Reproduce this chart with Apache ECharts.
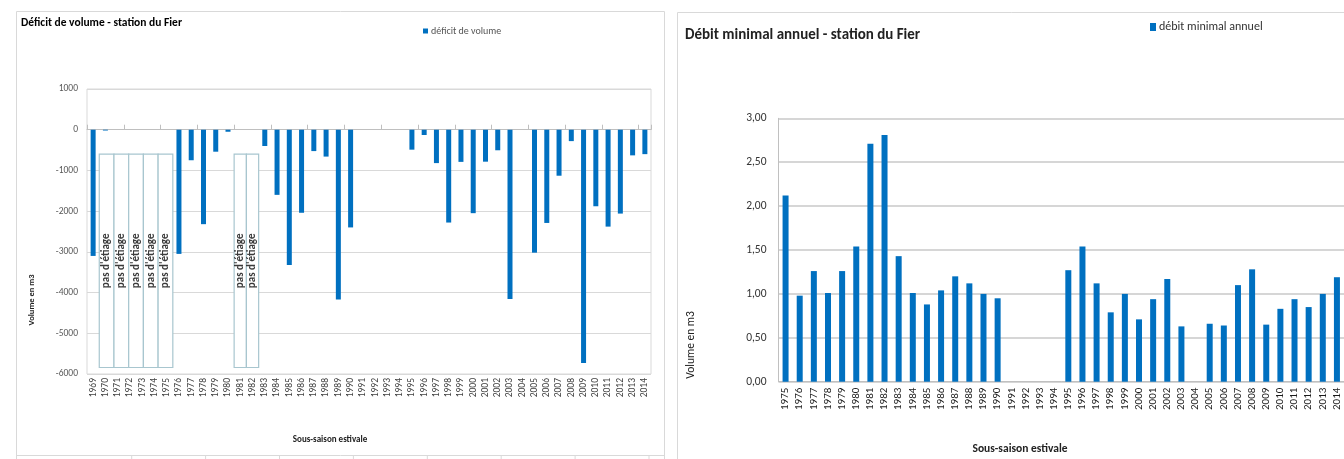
<!DOCTYPE html>
<html>
<head>
<meta charset="utf-8">
<script src="https://cdn.jsdelivr.net/npm/echarts@6/dist/echarts.min.js"></script>
<style>
  html, body { margin: 0; padding: 0; background: #fff; overflow: hidden; }
  #chart { width: 1344px; height: 459px; }
</style>
</head>
<body>
<div id="chart"></div>
<script>
// Summer sub-season years for the volume deficit chart
const deficitYears = ['1969','1970','1971','1972','1973','1974','1975','1976','1977','1978',
  '1979','1980','1981','1982','1983','1984','1985','1986','1987','1988','1989','1990',
  '1991','1992','1993','1994','1995','1996','1997','1998','1999','2000','2001','2002',
  '2003','2004','2005','2006','2007','2008','2009','2010','2011','2012','2013','2014'];

// Volume deficit (m3); null = no value
const deficitValues = [-3100, -20, null, null, null, null, null, -3050, -750, -2320,
  -540, -50, null, null, -400, -1600, -3320, -2040, -525, -660, -4170, -2400,
  null, null, null, null, -490, -130, -820, -2280, -790, -2050, -785, -505,
  -4160, null, -3020, -2290, -1130, -280, -5730, -1880, -2380, -2060, -630, -600];

// Year spans flagged "pas d'étiage" and the number of boxes drawn over each span
const noLowFlowSpans = [['1970', '1975', 5], ['1981', '1982', 2]];

// Years for the annual minimum flow chart
const minFlowYears = ['1975','1976','1977','1978','1979','1980','1981','1982','1983','1984',
  '1985','1986','1987','1988','1989','1990','1991','1992','1993','1994','1995','1996',
  '1997','1998','1999','2000','2001','2002','2003','2004','2005','2006','2007','2008',
  '2009','2010','2011','2012','2013','2014'];

// Annual minimum flow
const minFlowValues = [2.12, 0.98, 1.26, 1.01, 1.26, 1.54, 2.71, 2.81, 1.43, 1.01,
  0.88, 1.04, 1.20, 1.12, 1.00, 0.95, null, null, null, null, 1.27, 1.54,
  1.12, 0.79, 1.00, 0.71, 0.94, 1.17, 0.63, null, 0.66, 0.64, 1.10, 1.28,
  0.65, 0.83, 0.94, 0.85, 1.00, 1.19];

const deficitTicks = [-6000, -5000, -4000, -3000, -2000, -1000, 0, 1000];
const flowTicks = [0, 0.5, 1, 1.5, 2, 2.5, 3];

const FONT = "'Carlito', 'Liberation Sans Narrow', 'Noto Sans', sans-serif";
const BLUE = '#0070C0';

const chart = echarts.init(document.getElementById('chart'), null, { renderer: 'canvas' });

// Small tick marks along the lower frame line of the left panel
const frameTicks = [];
for (let k = 0; k < 8; k++) {
  const x = 131.7 + 73.9 * k;
  frameTicks.push({ type: 'line', shape: { x1: x, y1: 455, x2: x, y2: 459 },
    style: { stroke: '#d9d9d9', lineWidth: 1 }, silent: true });
}

const option = {
  animation: false,
  textStyle: { fontFamily: FONT },
  title: [
    { text: 'Déficit de volume - station du Fier', left: 16, top: 12,
      textStyle: { fontFamily: FONT, fontSize: 11.5, fontWeight: 'bold', color: '#000' } },
    { text: 'Débit minimal annuel - station du Fier', left: 680, top: 23,
      textStyle: { fontFamily: FONT, fontSize: 15, fontWeight: 600, color: '#222' } }
  ],
  legend: [
    { data: ['déficit de volume'], left: 418, top: 21, itemWidth: 5, itemHeight: 5, itemGap: 4,
      icon: 'rect', textStyle: { fontFamily: FONT, fontSize: 10, color: '#555', padding: [0, 0, 0, -2] } },
    { data: ['débit minimal annuel'], left: 1145, top: 16, itemWidth: 6, itemHeight: 8,
      icon: 'rect', textStyle: { fontFamily: FONT, fontSize: 12, color: '#333', padding: [0, 0, 0, -2] } }
  ],
  grid: [
    { left: 87, top: 89, width: 564, height: 285, show: true, borderColor: '#d9d9d9', borderWidth: 1,
      backgroundColor: 'transparent' },
    { left: 778.5, top: 118.3, width: 569.6, height: 263.4 }
  ],
  xAxis: [
    { // category axis crossing at zero: line and ticks only
      type: 'category', gridIndex: 0, data: deficitYears, position: 'bottom',
      axisLine: { onZero: true, lineStyle: { color: '#bfbfbf' } },
      axisTick: { show: true, inside: true, length: 5, lineStyle: { color: '#bfbfbf' } },
      axisLabel: { show: false }, splitLine: { show: false }
    },
    { // year labels at the bottom of the plot
      type: 'category', gridIndex: 0, data: deficitYears, position: 'bottom',
      axisLine: { show: false, onZero: false }, axisTick: { show: false },
      axisLabel: { interval: 0, rotate: 90, fontSize: 9.5, color: '#404040', margin: 4, fontFamily: FONT },
      splitLine: { show: false }
    },
    {
      type: 'category', gridIndex: 1, data: minFlowYears, position: 'bottom',
      axisLine: { lineStyle: { color: '#c0c0c0', width: 1 } }, axisTick: { show: false },
      axisLabel: { interval: 0, rotate: 90, fontSize: 11, color: '#1a1a1a', margin: 6, fontFamily: FONT },
      splitLine: { show: false }
    }
  ],
  yAxis: [
    {
      type: 'value', gridIndex: 0, min: deficitTicks[0], max: deficitTicks[deficitTicks.length - 1],
      interval: 1000,
      axisLine: { show: false }, axisTick: { show: false },
      axisLabel: { fontSize: 9.5, color: '#595959', margin: 9, fontFamily: FONT,
        formatter: v => String(v) },
      splitLine: { lineStyle: { color: '#d9d9d9', width: 1 } }
    },
    {
      type: 'value', gridIndex: 1, min: flowTicks[0], max: flowTicks[flowTicks.length - 1],
      interval: 0.5,
      axisLine: { show: true, lineStyle: { color: '#c0c0c0' } }, axisTick: { show: false },
      axisLabel: { fontSize: 11.5, color: '#333', margin: 12, fontFamily: FONT,
        formatter: v => v.toFixed(2).replace('.', ',') },
      splitLine: { lineStyle: { color: '#c8c8c8', width: 1.5 } }
    }
  ],
  series: [
    {
      name: 'déficit de volume', type: 'bar', xAxisIndex: 0, yAxisIndex: 0,
      data: deficitValues, barWidth: 5, itemStyle: { color: BLUE }
    },
    {
      name: 'pas d\'étiage', type: 'custom', xAxisIndex: 0, yAxisIndex: 0,
      data: noLowFlowSpans.map(s => [s[0], -600]),
      z: 3,
      renderItem: function (params, api) {
        const span = noLowFlowSpans[params.dataIndex];
        const i0 = deficitYears.indexOf(span[0]);
        const i1 = deficitYears.indexOf(span[1]);
        const band = api.size([1, 0])[0];
        const x0 = api.coord([i0, 0])[0] - band / 2;
        const x1 = api.coord([i1, 0])[0] + band / 2;
        const yTop = api.coord([i0, -600])[1];
        const yBot = api.coord([i0, -5840])[1];
        const w = (x1 - x0) / span[2];
        const children = [];
        for (let k = 0; k < span[2]; k++) {
          children.push({
            type: 'rect',
            shape: { x: x0 + k * w, y: yTop, width: w, height: yBot - yTop },
            style: { fill: '#fff', stroke: '#a8c6cf', lineWidth: 1.2 }
          });
          children.push({
            type: 'text',
            x: x0 + k * w + w / 2, y: (yTop + yBot) / 2,
            rotation: Math.PI / 2,
            style: { text: 'pas d\'étiage', align: 'center', verticalAlign: 'middle',
              font: 'bold 11px ' + FONT, fill: '#3a3a3a' }
          });
        }
        return { type: 'group', children: children };
      }
    },
    {
      name: 'débit minimal annuel', type: 'bar', xAxisIndex: 2, yAxisIndex: 1,
      data: minFlowValues, barWidth: 6, itemStyle: { color: BLUE }
    }
  ],
  graphic: [
    // panel frames
    { type: 'rect', shape: { x: 16.5, y: 11.5, width: 648, height: 460 },
      style: { fill: 'none', stroke: '#d9d9d9', lineWidth: 1 }, silent: true, z: -10 },
    { type: 'rect', shape: { x: 677.5, y: 12.5, width: 700, height: 460 },
      style: { fill: 'none', stroke: '#d9d9d9', lineWidth: 1 }, silent: true, z: -10 },
    { type: 'line', shape: { x1: 16, y1: 455.5, x2: 665, y2: 455.5 },
      style: { stroke: '#d9d9d9', lineWidth: 1 }, silent: true },
    ...frameTicks,
    // axis titles
    { type: 'text', x: 32, y: 300, rotation: Math.PI / 2,
      style: { text: 'Volume en m3', align: 'center', verticalAlign: 'middle',
        font: 'bold 8.5px ' + FONT, fill: '#222' } },
    { type: 'text', x: 330, y: 440,
      style: { text: 'Sous-saison estivale', align: 'center', verticalAlign: 'middle',
        font: 'bold 9px ' + FONT, fill: '#222' } },
    { type: 'text', x: 691, y: 345, rotation: Math.PI / 2,
      style: { text: 'Volume en m3', align: 'center', verticalAlign: 'middle',
        font: '11.5px ' + FONT, fill: '#222' } },
    { type: 'text', x: 1020, y: 449,
      style: { text: 'Sous-saison estivale', align: 'center', verticalAlign: 'middle',
        font: '600 11.5px ' + FONT, fill: '#222' } }
  ]
};

chart.setOption(option);
</script>
</body>
</html>
